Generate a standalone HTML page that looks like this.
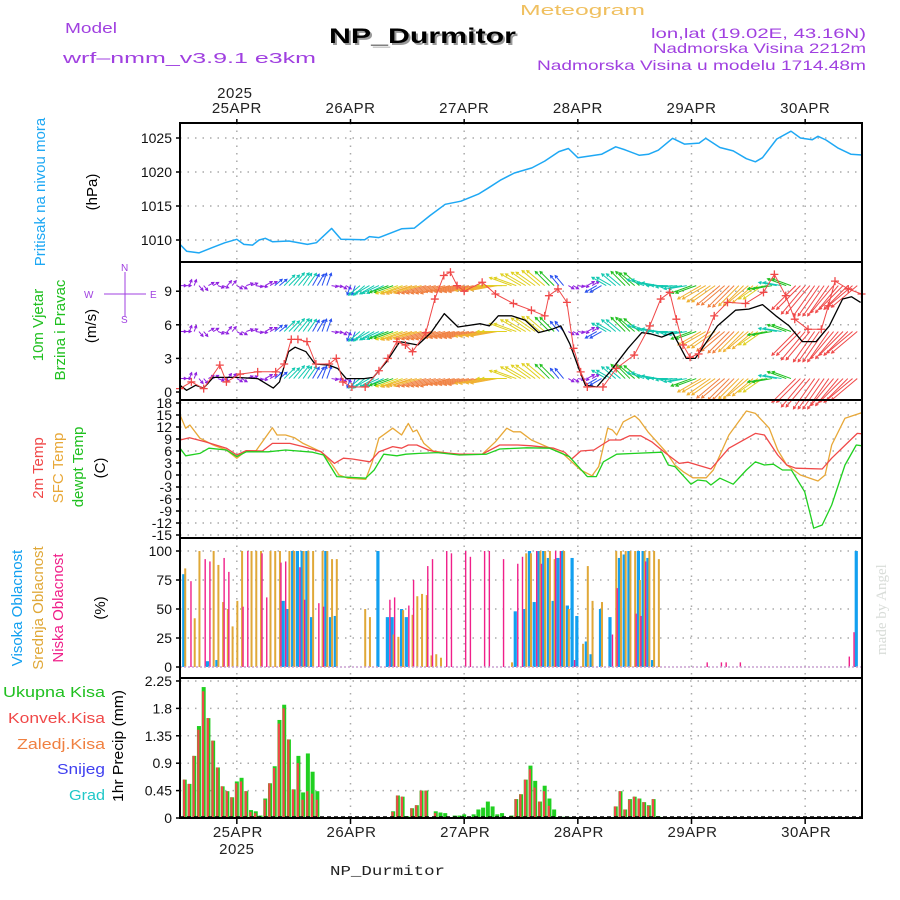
<!DOCTYPE html>
<html><head><meta charset="utf-8"><style>
body{margin:0;background:#fff}
svg{display:block;font-family:"Liberation Sans",sans-serif}
</style></head><body>
<svg id="c" width="900" height="900" viewBox="0 0 900 900">
<g id="hdr" font-size="15">
<text x="65" y="33" fill="#a040e0" textLength="52" lengthAdjust="spacingAndGlyphs">Model</text>
<text x="63" y="63" fill="#a040e0" textLength="253" lengthAdjust="spacingAndGlyphs">wrf–nmm_v3.9.1  e3km</text>
<text x="520" y="15" fill="#f0c060" textLength="125" lengthAdjust="spacingAndGlyphs">Meteogram</text>
<text x="331" y="45" font-size="21" font-weight="bold" fill="#999" textLength="187" lengthAdjust="spacingAndGlyphs">NP_Durmitor</text>
<text x="329" y="43" font-size="21" font-weight="bold" fill="#000" textLength="187" lengthAdjust="spacingAndGlyphs">NP_Durmitor</text>
<text x="651" y="38" fill="#a040e0" font-size="14" textLength="215" lengthAdjust="spacingAndGlyphs">lon,lat (19.02E, 43.16N)</text>
<text x="653" y="53" fill="#a040e0" font-size="14" textLength="213" lengthAdjust="spacingAndGlyphs">Nadmorska Visina 2212m</text>
<text x="537" y="70" fill="#a040e0" font-size="14" textLength="329" lengthAdjust="spacingAndGlyphs">Nadmorska Visina u modelu 1714.48m</text>
<text x="330" y="875" font-family="Liberation Mono, monospace" font-size="14" fill="#222" textLength="115" lengthAdjust="spacingAndGlyphs">NP_Durmitor</text>
<text transform="translate(886,655) rotate(-90)" fill="#d8dcd8" font-size="15" font-family="Liberation Serif, serif">made by Angel</text>
</g>
</svg>
<script>
const NS='http://www.w3.org/2000/svg';
const svg=document.getElementById('c');
function mk(tag,attrs,parent){const e=document.createElementNS(NS,tag);for(const k in attrs)e.setAttribute(k,attrs[k]);(parent||svg).appendChild(e);return e;}

// ---------- DATA ----------
const dayLabels=['25APR','26APR','27APR','28APR','29APR','30APR'];
const dayHours=[12,36,60,84,108,132];
const pressHours=[0,1.4,4,6.7,9.5,12,13.5,15.3,16.7,18,19.5,23,26.9,28.8,32,34,39,40,42,46.8,49.5,52.8,56,59.3,63,65,67.8,70.6,74.3,77,80,82,84,86.5,89,92,94,97,98.9,101,104,106.5,109.6,111,114,116.8,119.6,121.5,123,126,129,131,133.5,134.7,136.4,139,141.7,144];
const pressVals=[1009.35,1008.35,1008.1,1008.85,1009.6,1010.1,1009.35,1009.25,1010,1010.25,1009.75,1009.85,1009.35,1009.6,1011.7,1010.1,1010.05,1010.5,1010.35,1011.65,1011.75,1013.6,1015.25,1015.7,1016.75,1017.6,1018.85,1019.85,1020.6,1021.6,1023,1023.45,1022.1,1022.35,1022.6,1023.7,1023.25,1022.45,1022.6,1023.2,1024.95,1024.1,1024.25,1024.95,1023.6,1023.1,1021.95,1021.5,1022.1,1024.85,1026,1025,1024.75,1025.25,1024.7,1023.5,1022.6,1022.5];
const pressTicks=[1010,1015,1020,1025];

const speedHours=[0,1.4,3.3,5,7,8.9,11.7,16.4,19.7,21,22.9,24.3,26.6,28.5,31.4,33.3,35.1,38.9,40.8,43.6,46.4,50.2,53,55.8,58.7,63.4,65.3,67.2,70,72.9,75.7,78.5,80.4,82.3,84.2,85.6,88,90.8,94.6,97.5,99.3,101.7,104,106.9,108.8,113.5,117.3,120.1,123,125.8,128.6,131.4,134.3,137.1,139.9,141.8,143.7];
const speedVals=[0.6,0.15,0.6,0.35,1.3,1.3,1.3,1.2,0.35,0.9,3.6,4,3.6,2.5,2.4,2.1,1.2,1.2,1.3,2.7,4.5,4.2,5.3,7,5.8,6.1,5.9,6.8,6.8,6.4,5.3,5.6,5.9,4.3,2.1,0.6,0.45,1.8,3.9,5.3,5.2,4.9,5.3,3,3,5.9,7.3,7.4,7.8,6.8,5.9,4.5,4.5,5.9,8.3,8.5,8];
const gustHours=[0,2.4,5,8.4,9.8,12.7,16.4,20.2,22,23.5,24.9,26.8,28.7,31.5,33,34.4,36.3,39.1,42,43.9,45.8,47.6,49.1,51.9,53.8,55.7,57.1,58.5,60,63.8,66.6,70.4,74.2,77,77.9,79.8,81.7,83.1,84.6,86,89.3,92.1,95.9,99.2,101.5,103.4,104.8,106.2,107.7,109.5,112.8,115.6,119.4,123.2,125.5,127.9,129.8,132.6,135.4,136.9,138.3,141.1,143.9];
const gustVals=[0.3,0.9,0.3,2.4,0.9,1.6,1.8,1.8,2.5,4.7,4.7,4.5,2.5,2.5,3,0.9,0.45,0.45,1.9,3,4.5,4.2,3.6,5.3,8.3,10.4,10.7,9.5,9,9.8,8.75,7.9,7.3,6.8,8.6,9.2,8,3.9,1.8,0.45,0.45,2.1,3.3,5.9,8.3,8.9,6.5,4.2,3.1,3.4,6.8,8,7.9,8.9,10.5,8.6,6.5,5.6,5.6,7.7,9.9,9.2,8.75];
const windTicks=[0,3,6,9];
const barbRowLevels=[9.5,5.4,1.2];
const barbHours=[0,2,4,6,8,10,12,14,16,18,20,22,24,26,28,30,32,34,36,38,40,42,44,46,48,50,52,54,56,58,60,62,64,66,68,70,72,74,76,78,80,82,84,86,88,90,92,94,96,98,100,102,104,106,108,110,112,114,116,118,120,122,124,126,128,130,132,134,136,138,140,142];
const barbDir=[270,200,320,240,290,220,300,250,280,240,230,225,220,215,210,200,280,300,20,50,60,65,70,70,72,75,75,75,75,78,78,78,80,80,90,110,120,125,130,135,140,300,280,240,60,120,130,135,130,110,100,90,85,80,70,60,55,50,45,45,50,55,80,100,110,45,40,35,35,40,45,50];
const barbSpd=[1,1,1,1,1,1,1,1.2,1.2,1.5,2,3.5,4,3.5,3,3,1,1,2,3.5,4,4.5,5,6,7,7.5,8,8,8,8,8,8,7.5,7,6.5,6,6,6,6,5,3,1,1,1.5,3,4,4.5,5,5,4.5,4,4,4,4.5,5.5,7,7.5,8,8,7.5,7,6,5,4.5,5,9,10,10,10,9.5,9,9];

const tempT2Hours=[0,2,5.3,9.8,12,14,17.4,19.5,23.2,26,29.8,32.6,34.5,36.4,40.1,42,44.9,46.8,48.2,50,52.4,54.3,59,63.8,67.5,71.3,74.2,78.9,81.2,82.7,84.6,87.4,90.7,93,94.9,97.3,99.6,102.6,105.4,107.3,112.1,115.9,121.5,123.4,126.2,128.1,130,135.6,137.6,143,144];
const tempT2Vals=[8.75,9.3,8.3,6.7,5,6.1,6,7.9,7.9,7.1,5.8,2.9,4.2,4,3.3,5.8,7.1,6.7,7.5,7.5,6.25,5.7,5.2,5.2,7.5,7.5,7.3,6.7,5.7,4,6,6.25,8.75,8.75,9.8,9.8,8.3,5.4,2.9,3.2,1.5,6.7,10.4,10,5,2.5,1.7,1.5,4.2,10.4,10.3];
const tempSfcHours=[0,1.2,2.1,4.2,7,9.8,12,14,16,19.5,20.5,22.3,24.2,26,29.8,31.7,33.6,35.4,39.2,40.6,42,44.9,46.8,48.2,49.2,50,51.5,53.4,58.1,63.8,66.6,69,70.4,71.9,74.2,78,80.8,82.7,84.6,87,88.4,89.4,90.3,91.3,92.2,93.6,96,97,98.8,102.6,104.5,106.4,108.3,111.1,112.6,115.9,119.6,121.5,124.4,126.2,128.1,131,134.7,136.2,137.6,140.4,144];
const tempSfcVals=[15,11.7,12.5,9.2,7.5,6.25,4.2,6.1,6,11.8,10,10,9.3,7.9,5.8,3.3,0,-0.8,-1.1,3.3,9.2,11.7,10,12.9,10.8,11.25,7.9,6,5.2,5.2,8.3,11.7,10.8,10.8,8.75,6.8,5.4,3.3,1.25,-0.2,2.1,7.1,11.7,11.25,10,13.3,14.8,13.75,10.8,5.8,2.5,0.7,-0.7,-0.7,1.25,10,16,15.4,11.7,6.25,2.5,0,-1.5,0,7.5,14.2,15.6];
const tempDewHours=[0,1.2,4.2,6.1,9.8,12,14,18.6,22.3,28,30.3,33.1,39.2,41,43,45.8,47.7,50.5,54.3,59,64.7,67.5,73.2,78,82.2,84.1,86,87.9,89.4,92.2,96,101.7,103.1,104.5,107.9,109.3,111.1,112.1,114,116.8,119.6,121.5,123.4,125.3,127.2,129.1,131.9,133.8,135.6,137.6,140.4,142.8,144];
const tempDewVals=[6.7,4.8,5.4,6.7,6.25,4.6,5.8,5.8,6.25,5.7,5,-0.4,-0.8,1.25,5.2,4.8,5.2,5.4,5.6,5,5.2,6.5,6.8,6.7,4.6,2.1,-0.4,-0.4,3.3,5.2,5.4,5.7,2.5,2.1,-2.3,-1.25,-1.5,-2.5,-0.8,-2.3,1.25,3.3,2.5,2.7,1.25,1.25,-4.2,-13.3,-12.5,-7.5,2.5,7.5,7.3];
const tempTicks=[18,15,12,9,6,3,0,-3,-6,-9,-12,-15];

const cloudHighHours=[1,6,8,22,23,24,25,26,27,28,31,32,33,42,44,45,47,48,71,73,74,75,76,77,78,79,80,81,82,83,84,86,87,89,91,93,94,95,97,98,99,100,143];
const cloudHighVals=[80,5,6,57,50,100,100,100,100,43,100,43,44,100,43,43,50,43,48,50,100,56,100,100,94,57,94,100,53,94,44,22,11,50,43,94,97,100,100,100,94,6,100];
const cloudMidHours=[1,3,4,7,8,9,10,11,12,13,15,16,17,19,20,21,23,24,26,27,28,30,31,32,33,39,40,45,46,47,49,50,51,52,53,54,55,70,73,74,76,77,78,79,81,82,85,86,87,89,92,93,94,95,96,97,98,99,100,101];
const cloudMidVals=[85,42,100,100,88,56,50,35,57,100,100,100,100,100,100,100,100,100,100,100,100,100,100,93,93,50,43,28,26,49,45,61,63,62,10,11,8,4,98,98,100,100,100,93,100,50,20,87,57,56,100,100,100,100,100,75,100,100,100,93];
const cloudLowHours=[2,5,6,9,10,13,14,17,18,21,22,25,26,29,30,44,45,48,49,52,53,56,57,60,61,64,65,68,71,72,75,76,79,80,83,91,92,96,97,98,111,114,115,118,141,142];
const cloudLowVals=[74,93,91,94,82,52,100,98,60,90,91,86,58,55,52,58,60,53,75,87,93,100,98,100,95,100,100,93,89,95,100,89,100,100,6,28,68,46,44,91,4,4,4,4,9,30];
const cloudTicks=[0,25,50,75,100];

const precipHours=[1,2,3,4,5,6,7,8,9,10,11,12,13,14,15,16,17,18,19,20,21,22,23,24,25,26,27,28,29,45,46,47,48,49,50,51,52,54,55,56,58,59,60,61,62,63,64,65,66,67,68,70,71,72,73,74,75,76,77,78,79,81,82,92,93,94,95,96,97,98,99,100,101];
const precipTotal=[0.63,0.56,1.02,1.51,2.15,1.64,1.27,0.83,0.52,0.44,0.34,0.6,0.66,0.44,0.13,0.11,0.04,0.32,0.57,0.85,1.61,1.86,1.29,0.47,1.02,0.42,1.06,0.76,0.44,0.11,0.37,0.35,0.03,0.16,0.21,0.45,0.45,0.11,0.09,0.08,0.04,0.04,0.06,0.02,0.06,0.14,0.17,0.27,0.19,0.06,0.08,0.04,0.31,0.39,0.63,0.86,0.61,0.27,0.53,0.32,0.14,0.02,0.02,0.19,0.44,0.14,0.31,0.35,0.32,0.26,0.21,0.31,0.03];
const precipConv=[0.63,0.56,1.02,1.45,2.08,1.64,1.27,0.83,0.52,0.44,0.34,0.57,0.6,0.44,0.1,0.08,0,0.3,0.57,0.82,1.55,1.8,1.29,0.47,0.9,0.3,0.44,0.4,0.3,0.1,0.37,0.35,0.02,0.16,0.21,0.45,0.45,0.08,0,0,0,0,0,0,0,0,0,0,0,0,0,0.03,0.31,0.39,0.63,0.8,0.5,0.27,0.44,0.2,0,0,0,0.19,0.44,0.14,0.3,0.35,0.32,0.26,0.2,0.31,0.02];
const precipTicks=[0,0.45,0.9,1.35,1.8,2.25];

// ---------- AXES ----------
const X0=180,X1=862,H=144;
const xS=h=>X0+h*(X1-X0)/H;
const yP=p=>138+(1025-p)*6.8;
const yW=w=>392-w*11.2;
const yT=t=>403+(18-t)*4;
const yC=c=>667-c*1.16;
const yR=v=>818-v*60.9;
const panels=[[123,262],[262,400],[400,538],[538,678],[678,818]];
const panelNames=['pressure-panel','wind-panel','temperature-panel','cloud-panel','precip-panel'];

const grid=mk('g',{stroke:'#aaa','stroke-width':1.5,'stroke-dasharray':'1.5 6'});


panels.forEach(([a,b])=>{dayHours.forEach(h=>{mk('line',{x1:xS(h),x2:xS(h),y1:a,y2:b},grid);});});
function hgrid(vals,f){vals.forEach(v=>{const y=f(v);mk('line',{x1:X0,x2:X1,y1:y,y2:y},grid);});}
hgrid(pressTicks,yP);hgrid([3,6,9],yW);hgrid(tempTicks,yT);hgrid([25,50,75,100],yC);hgrid([0.45,0.9,1.35,1.8,2.25],yR);

function ticks(vals,f,fmt,name){const g=mk('g',{'font-size':14,'text-anchor':'end',fill:'#111'});


vals.forEach(v=>{const y=f(v);mk('line',{x1:X0-4,x2:X0,y1:y,y2:y,stroke:'#000','stroke-width':1.5},g);const t=mk('text',{x:X0-8,y:y+5},g);t.textContent=fmt(v);});}
ticks(pressTicks,yP,v=>v,'pressure-ticks');
ticks(windTicks,yW,v=>v,'wind-ticks');
ticks(tempTicks,yT,v=>v,'temperature-ticks');
ticks(cloudTicks,yC,v=>v,'cloud-ticks');
ticks(precipTicks,yR,v=>v.toFixed(2).replace(/0$/,'').replace(/\.0$/,''),'precip-ticks');

// day labels top & bottom
const dl=mk('g',{'font-size':15,'text-anchor':'middle',fill:'#222','letter-spacing':0.5});


dayHours.forEach((h,i)=>{let t=mk('text',{x:xS(h),y:113},dl);t.textContent=dayLabels[i];t=mk('text',{x:xS(h)+1,y:837},dl);t.textContent=dayLabels[i];
 mk('line',{x1:xS(h),x2:xS(h),y1:119,y2:124,stroke:'#000','stroke-width':1.5},dl);mk('line',{x1:xS(h),x2:xS(h),y1:818,y2:824,stroke:'#000','stroke-width':1.5},dl);});
let yt=mk('text',{x:xS(12)-2,y:98},dl);yt.textContent='2025';
yt=mk('text',{x:xS(12),y:854},dl);yt.textContent='2025';

// ---------- SERIES ----------
function line(hs,vs,f,col,name,w){const d=hs.map((h,i)=>(i?'L':'M')+xS(h).toFixed(1)+' '+f(vs[i]).toFixed(1)).join('');
const p=mk('path',{d,fill:'none',stroke:col,'stroke-width':w||1.3,'stroke-linejoin':'round'});

return p;}
line(pressHours,pressVals,yP,'#1ea8f4','pressure-line',1.5);

// wind barbs
function windColor(s){if(s<1.6)return '#9020e0';if(s<3.2)return '#2850f0';if(s<4.6)return '#10c8b0';if(s<5.6)return '#20c020';if(s<6.6)return '#e0d020';if(s<7.6)return '#f0b030';if(s<8.6)return '#f08040';return '#f04848';}
const barbs=mk('g',{'stroke-width':1,fill:'none'});


barbRowLevels.forEach(lv=>{const y0=yW(lv);barbHours.forEach((h,i)=>{[0,1].forEach(k=>{
 const hh=h+k;if(hh>143.5)return;const x0=xS(hh);const to=(barbDir[i]+180)*Math.PI/180;const L=3+barbSpd[i]*3.4;
 const dx=Math.sin(to)*L,dy=-Math.cos(to)*L;const col=windColor(barbSpd[i]);
 const a=Math.atan2(dy,dx);const x1=x0+dx,y1=y0+dy;
 mk('path',{d:`M${x0} ${y0}L${x1} ${y1}M${x1-3*Math.cos(a-0.5)} ${y1-3*Math.sin(a-0.5)}L${x1} ${y1}L${x1-3*Math.cos(a+0.5)} ${y1-3*Math.sin(a+0.5)}`,stroke:col},barbs);});});});
line(speedHours,speedVals,yW,'#000','wind-speed-line',1.3);
line(gustHours,gustVals,yW,'#f04848','wind-gust-line',1);
const gm=mk('g',{stroke:'#f04848','stroke-width':1.3});


gustHours.forEach((h,i)=>{const x=xS(h),y=yW(gustVals[i]);mk('path',{d:`M${x-4} ${y}h8M${x} ${y-4}v8`},gm);});

line(tempSfcHours,tempSfcVals,yT,'#e8a838','sfc-temp-line',1.3);
line(tempT2Hours,tempT2Vals,yT,'#f04848','t2m-line',1.3);
line(tempDewHours,tempDewVals,yT,'#20d020','dewpoint-line',1.3);

// clouds
function bars(hs,vs,f,col,w,off,name){const g=mk('g',{fill:col});


hs.forEach((h,i)=>{const y=f(vs[i]);mk('rect',{x:xS(h)+off-w/2,y,width:w,height:f(0)-y},g);});}
bars(cloudHighHours,cloudHighVals,yC,'#12a0f0',3.2,-1,'high-cloud-bars');
bars(cloudMidHours,cloudMidVals,yC,'#e0a838',2,0.5,'mid-cloud-bars');
bars(cloudLowHours,cloudLowVals,yC,'#f0208a',1.4,1.5,'low-cloud-bars');
const cb=mk('line',{x1:X0,x2:X1,y1:667,y2:667,stroke:'#c8a0d0','stroke-width':1.5,'stroke-dasharray':'2 2'});



// precip
bars(precipHours,precipTotal,yR,'#20d020',4,0,'total-precip-bars');
bars(precipHours,precipConv,yR,'#f04848',2.2,-0.6,'conv-precip-bars');
const pb=mk('line',{x1:X0,x2:X1,y1:817,y2:817,stroke:'#000','stroke-width':1.5,'stroke-dasharray':'4 3'});



// panel frames
panels.forEach(([a,b],i)=>{const r=mk('rect',{x:X0,y:a,width:X1-X0,height:b-a,fill:'none',stroke:'#000','stroke-width':2});

});

// ---------- LEFT LABELS ----------
function vlab(x,yc,txt,col,name,len){const a={transform:`translate(${x},${yc}) rotate(-90)`,'text-anchor':'middle',fill:col,'font-size':15};
if(len){a.textLength=len;a.lengthAdjust='spacingAndGlyphs';}
const t=mk('text',a);t.textContent=txt;

}
vlab(45,192,'Pritisak na nivou mora','#1ea8f4','pressure-label');
vlab(97,192,'(hPa)','#000','pressure-unit');
vlab(43,325,'10m Vjetar','#20c020','wind-label-1');
vlab(65,330,'Brzina i Pravac','#20c020','wind-label-2');
vlab(96,326,'(m/s)','#000','wind-unit');
vlab(43,468,'2m Temp','#f04848','t2m-label');
vlab(63,468,'SFC Temp','#e8a838','sfc-label');
vlab(83,467,'dewpt Temp','#20c020','dew-label');
vlab(105,468,'(C)','#000','temp-unit');
vlab(22,608,'Visoka Oblacnost','#12a0f0','high-cloud-label');
vlab(43,608,'Srednja Oblacnost','#e0a838','mid-cloud-label');
vlab(63,608,'Niska Oblacnost','#f0208a','low-cloud-label');
vlab(105,608,'(%)','#000','cloud-unit');
vlab(123,746,'1hr Precip (mm)','#000','precip-unit',112);
const pl=[['Ukupna Kisa','#20c020',697,3],['Konvek.Kisa','#f04848',723,8],['Zaledj.Kisa','#f08040',749,17],['Snijeg','#4040f0',774,57],['Grad','#20c8c8',800,69]];
pl.forEach(([t,c,y,x],i)=>{const e=mk('text',{x,y,fill:c,'font-size':15,textLength:105-x,lengthAdjust:'spacingAndGlyphs'});e.textContent=t;

});
// compass
const cp=mk('g',{fill:'#a040e0',stroke:'#a040e0','font-size':10});


mk('line',{x1:104,x2:146,y1:294,y2:294,'stroke-width':1},cp);
mk('line',{x1:125,x2:125,y1:272,y2:316,'stroke-width':1},cp);
[['W',84,298],['E',150,298],['N',121,271],['S',121,323]].forEach(([t,x,y])=>{const e=mk('text',{x,y,stroke:'none'},cp);e.textContent=t;});
</script>
</body></html>
